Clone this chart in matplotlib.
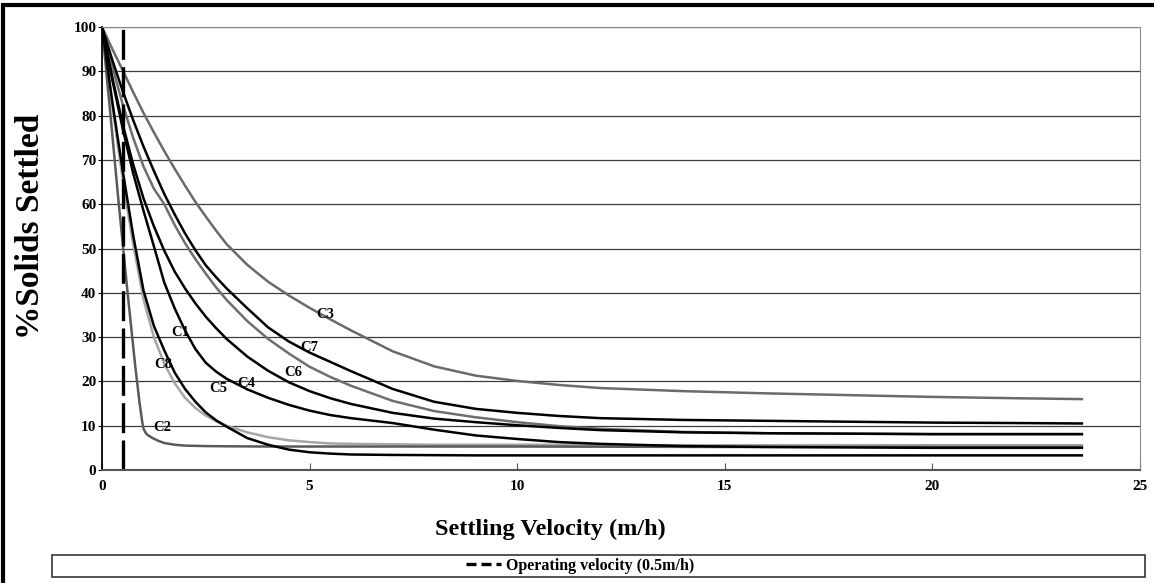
import numpy as np
import matplotlib
matplotlib.use('Agg')
from matplotlib import pyplot as plt
from matplotlib.patches import Rectangle
from matplotlib.lines import Line2D

plt.rcParams['font.family'] = ['Liberation Serif', 'DejaVu Serif']
plt.rcParams['font.weight'] = 'bold'

# settling velocity (m/h) at which the curves were read
vel = [0, 0.25, 0.5, 0.75, 1, 1.25, 1.5, 1.75, 2, 2.25, 2.5, 2.75, 3, 3.5, 4, 4.5, 5, 5.5, 6,
       7, 8, 9, 10, 11, 12, 14, 16, 18, 20, 22, 23.6]

c1 = [100, 83, 67.5, 53, 40.5, 32.5, 27, 22, 18.3, 15.4, 13, 11.2, 9.8, 7.2, 5.7, 4.6, 4.0, 3.7, 3.5,
      3.4, 3.35, 3.3, 3.3, 3.3, 3.3, 3.3, 3.3, 3.3, 3.3, 3.3, 3.3]
c3 = [100, 95, 90.2, 85.3, 80.6, 76.2, 72, 68, 64.2, 60.5, 57.2, 54, 51, 46.3, 42.5, 39.4, 36.6, 34, 31.5,
      26.8, 23.4, 21.3, 20.1, 19.2, 18.5, 17.8, 17.3, 16.9, 16.5, 16.2, 16.0]
c4 = [100, 88.5, 78, 69, 61.3, 55, 49.5, 44.8, 41, 37.6, 34.6, 32, 29.6, 25.6, 22.4, 19.8, 17.8, 16.2, 14.9,
      12.9, 11.6, 10.8, 10.1, 9.5, 9.0, 8.5, 8.3, 8.2, 8.1, 8.1, 8.1]
c5 = [100, 88, 77, 67, 58.5, 50.5, 42.3, 36.5, 31.5, 27.3, 24.2, 22.2, 20.6, 18.2, 16.3, 14.7, 13.4, 12.4, 11.7,
      10.6, 9.1, 7.8, 7.0, 6.3, 5.9, 5.4, 5.2, 5.1, 5.0, 5.0, 5.0]
c6 = [100, 91, 82.5, 75, 68.5, 63.5, 60, 55.3, 51.2, 47.6, 44.3, 41.2, 38.4, 33.6, 29.6, 26.3, 23.3, 21.0, 19.0,
      15.6, 13.3, 11.9, 10.8, 9.9, 9.3, 8.6, 8.3, 8.2, 8.1, 8.1, 8.1]
c7 = [100, 92.5, 85.5, 79, 73, 67.5, 62.3, 57.7, 53.4, 49.6, 46.2, 43.5, 41, 36.5, 32.2, 29, 26.5, 24.4, 22.3,
      18.3, 15.4, 13.8, 12.9, 12.2, 11.7, 11.3, 11.1, 10.9, 10.7, 10.6, 10.5]
c8 = [100, 82, 65.5, 51, 38.5, 30, 24, 19.6, 16.3, 14, 12.3, 11, 10.0, 8.5, 7.4, 6.7, 6.3, 6.0, 5.9,
      5.8, 5.7, 5.7, 5.7, 5.7, 5.6, 5.6, 5.6, 5.6, 5.6, 5.6, 5.6]

# C2 drops much faster, so it has its own velocity points
vel_c2 = [0, 0.2, 0.4, 0.6, 0.8, 0.9, 0.97, 1.0, 1.05, 1.1, 1.2, 1.35, 1.5, 1.75, 2, 2.5, 3, 4, 6,
          10, 15, 20, 23.6]
c2 = [100, 80.5, 60.5, 41.5, 23.5, 15.5, 10.8, 9.3, 8.4, 7.9, 7.3, 6.6, 6.1, 5.7, 5.5, 5.4, 5.35, 5.3, 5.3,
      5.3, 5.2, 5.2, 5.2]

op_velocity = 0.5

# label positions (velocity, % settled)
label_names = ['C1', 'C2', 'C3', 'C4', 'C5', 'C6', 'C7', 'C8']
label_x = [1.88, 1.44, 5.37, 3.48, 2.80, 4.61, 5.00, 1.48]
label_y = [31.1, 9.6, 35.2, 19.5, 18.3, 22.0, 27.7, 23.9]

W, H = 1154, 583
fig = plt.figure(figsize=(W / 100, H / 100), dpi=100)
ax = fig.add_axes([102 / W, 1 - 470 / H, (1140 - 102) / W, (470 - 27) / H])

ax.plot(vel, c8, color='#a6a6a6', lw=1.8)
ax.plot(vel_c2, c2, color='#5a5a5a', lw=1.8)
ax.plot(vel, c3, color='#6a6a6a', lw=1.8)
ax.plot(vel, c6, color='#6e6e6e', lw=1.8)
ax.plot(vel, c1, color='black', lw=1.8)
ax.plot(vel, c5, color='black', lw=1.8)
ax.plot(vel, c4, color='black', lw=1.8)
ax.plot(vel, c7, color='black', lw=1.8)

ax.vlines(op_velocity, 0, 100, color='black', lw=2.4, linestyles=(0, (9, 2.2)))

for name, lx, ly in zip(label_names, label_x, label_y):
    ax.text(lx, ly, name, fontsize=10.5, ha='center', va='center')

ax.set_xlim(0, 25)
ax.set_ylim(0, 100)
ax.set_xticks(range(0, 26, 5))
ax.set_yticks(range(0, 101, 10))
ax.yaxis.grid(True, color='#3c3c3c', lw=0.9)
ax.set_axisbelow(True)
ax.tick_params(axis='x', direction='in', length=5, color='#555555', labelsize=11, pad=7)
ax.tick_params(axis='y', direction='out', length=3, color='black', labelsize=11, pad=1)
for lbl in ax.get_xticklabels() + ax.get_yticklabels():
    lbl.set_fontweight('bold')

ax.spines['left'].set_color('black')
ax.spines['left'].set_linewidth(1.3)
ax.spines['bottom'].set_color('#555555')
ax.spines['bottom'].set_linewidth(1.5)
ax.spines['top'].set_color('#8a8a8a')
ax.spines['right'].set_color('#8a8a8a')

fig.text(550 / W, 1 - 529 / H, 'Settling Velocity (m/h)', fontsize=17.5, fontweight='bold',
         ha='center', va='center')
fig.text(31 / W, 1 - 226 / H, '%Solids Settled', fontsize=24, fontweight='bold',
         ha='center', va='center', rotation=90)

# legend box at the bottom
fig.patches.append(Rectangle((52 / W, 1 - 577 / H), (1145 - 52) / W, 22 / H,
                             transform=fig.transFigure, fill=False, edgecolor='#444444', lw=1.3))
handle = Line2D([], [], color='black', lw=2.4, linestyle=(0, (3, 1.5)))
fig.legend([handle], ['Operating velocity (0.5m/h)'], loc='center',
           bbox_to_anchor=(580 / W, 1 - 566 / H), frameon=False,
           handlelength=2.2, handletextpad=0.3, borderpad=0, prop={'weight': 'bold', 'size': 11.5})

# outer border of the chart
fig.patches.append(Rectangle((3 / W, -0.2), 1.2, 1.2 - 5 / H,
                             transform=fig.transFigure, fill=False, edgecolor='black', lw=3))

fig.savefig('out.png', dpi=100)
